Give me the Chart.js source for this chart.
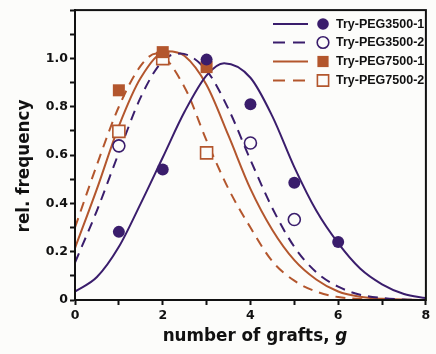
<!DOCTYPE html>
<html>
<head>
<meta charset="utf-8">
<script src="https://cdn.jsdelivr.net/npm/chart.js@4.4.1/dist/chart.umd.min.js"></script>
<style>
  html, body { margin: 0; padding: 0; background: #fcfcfa; }
  #wrap { width: 436px; height: 354px; }
</style>
</head>
<body>
<div id="wrap"><canvas id="c" width="436" height="354"></canvas></div>
<script>
// ---- data ----
const seriesNames = ['Try-PEG3500-1', 'Try-PEG3500-2', 'Try-PEG7500-1', 'Try-PEG7500-2'];

// measured points (g, rel. frequency)
const g35_1 = [1, 2, 3, 4, 5, 6];
const f35_1 = [0.282, 0.54, 0.995, 0.81, 0.485, 0.24];
const g35_2 = [1, 4, 5];
const f35_2 = [0.638, 0.65, 0.333];
const g75_1 = [1, 2, 3];
const f75_1 = [0.868, 1.026, 0.964];
const g75_2 = [1, 2, 3];
const f75_2 = [0.698, 0.999, 0.609];

// fitted curves
const fitX35_1 = [0, 0.5, 1, 1.5, 2, 2.5, 3, 3.4, 4, 4.5, 5, 5.5, 6, 6.5, 7, 7.5, 8];
const fitY35_1 = [0.035, 0.095, 0.22, 0.40, 0.59, 0.78, 0.93, 0.98, 0.92, 0.76, 0.55, 0.37, 0.235, 0.13, 0.065, 0.025, 0.008];
const fitX35_2 = [0, 0.5, 1, 1.5, 2, 2.4, 3, 3.5, 4, 4.5, 5, 5.5, 6, 6.5, 7, 7.5, 8];
const fitY35_2 = [0.155, 0.37, 0.61, 0.84, 0.99, 1.02, 0.95, 0.79, 0.58, 0.38, 0.22, 0.115, 0.055, 0.022, 0.008, 0.002, 0];
const fitX75_1 = [0, 0.5, 1, 1.5, 2.1, 2.5, 3, 3.5, 4, 4.5, 5, 5.5, 6, 6.5, 7, 8];
const fitY75_1 = [0.215, 0.46, 0.72, 0.92, 1.03, 1.01, 0.89, 0.68, 0.46, 0.29, 0.165, 0.085, 0.035, 0.013, 0.005, 0];
const fitX75_2 = [0, 0.5, 1, 1.5, 1.85, 2.5, 3, 3.5, 4, 4.5, 5, 5.5, 6, 6.5, 7, 8];
const fitY75_2 = [0.30, 0.56, 0.80, 0.97, 1.02, 0.88, 0.66, 0.46, 0.30, 0.16, 0.08, 0.035, 0.012, 0.004, 0.001, 0];

const xTickLabels = ['0', '2', '4', '6', '8'];
const yTickLabels = ['0', '0.2', '0.4', '0.6', '0.8', '1.0'];

// ---- styling ----
const PURPLE = '#3a1d6c';
const BROWN = '#b3562d';
const BG = '#fcfcfa';
const FONT = '"DejaVu Sans", sans-serif';
const LFONT = '"Liberation Sans", Arial, sans-serif';

const pts = (xs, ys) => xs.map((x, i) => ({ x, y: ys[i] }));

function curve(xs, ys, color, dash) {
  return {
    type: 'line', data: pts(xs, ys), borderColor: color, borderWidth: 2,
    borderDash: dash, pointRadius: 0, fill: false,
    cubicInterpolationMode: 'monotone', order: 2
  };
}
function marks(xs, ys, color, style, filled) {
  return {
    type: 'scatter', data: pts(xs, ys), pointStyle: style,
    pointRadius: style === 'rect' ? 8.5 : 6,
    pointBackgroundColor: filled ? color : BG,
    pointBorderColor: color, pointBorderWidth: filled ? 0 : 1.6, order: 0
  };
}

const legendItems = [
  { color: PURPLE, dash: [], style: 'circle', filled: true },
  { color: PURPLE, dash: [12, 8], style: 'circle', filled: false },
  { color: BROWN, dash: [], style: 'rect', filled: true },
  { color: BROWN, dash: [12, 8], style: 'rect', filled: false }
];

const decor = {
  id: 'decor',
  afterDraw(chart) {
    const { ctx, chartArea: a } = chart;
    ctx.save();
    // frame
    ctx.strokeStyle = '#111';
    ctx.lineWidth = 2;
    ctx.strokeRect(a.left, a.top, a.right - a.left, a.bottom - a.top);
    // legend
    const rowY = [24, 42.5, 61.5, 80.5];
    legendItems.forEach((it, i) => {
      const y = rowY[i];
      ctx.strokeStyle = it.color;
      ctx.lineWidth = 2;
      ctx.setLineDash(it.dash);
      ctx.beginPath(); ctx.moveTo(273, y); ctx.lineTo(308, y); ctx.stroke();
      ctx.setLineDash([]);
      ctx.fillStyle = it.filled ? it.color : BG;
      ctx.strokeStyle = it.color;
      ctx.lineWidth = 1.6;
      ctx.beginPath();
      if (it.style === 'rect') { ctx.rect(323 - 5.6, y - 5.6, 11.2, 11.2); }
      else { ctx.arc(323, y, 5.8, 0, Math.PI * 2); }
      ctx.fill();
      if (!it.filled) ctx.stroke();
      ctx.fillStyle = '#111';
      ctx.font = 'bold 12.5px ' + LFONT;
      ctx.textBaseline = 'middle';
      ctx.textAlign = 'left';
      ctx.fillText(seriesNames[i], 336, y + 0.5, 92);
    });
    // x axis title
    ctx.fillStyle = '#111';
    ctx.textBaseline = 'alphabetic';
    const t1 = 'number of grafts, ', t2 = 'g';
    const fs = 16.8;
    ctx.font = 'bold ' + fs + 'px ' + FONT;
    const w1 = ctx.measureText(t1).width;
    ctx.font = 'italic bold ' + fs + 'px ' + FONT;
    const w2 = ctx.measureText(t2).width;
    const x0 = 255 - (w1 + w2) / 2;
    ctx.font = 'bold ' + fs + 'px ' + FONT;
    ctx.textAlign = 'left';
    ctx.fillText(t1, x0, 341);
    ctx.font = 'italic bold ' + fs + 'px ' + FONT;
    ctx.fillText(t2, x0 + w1, 341);
    // y axis title
    ctx.translate(29, 166);
    ctx.rotate(-Math.PI / 2);
    ctx.textAlign = 'center';
    ctx.font = 'bold ' + fs + 'px ' + FONT;
    ctx.fillText('rel. frequency', 0, 0, 142);
    ctx.restore();
  }
};

new Chart(document.getElementById('c'), {
  data: {
    datasets: [
      marks(g35_1, f35_1, PURPLE, 'circle', true),
      marks(g35_2, f35_2, PURPLE, 'circle', false),
      marks(g75_1, f75_1, BROWN, 'rect', true),
      marks(g75_2, f75_2, BROWN, 'rect', false),
      curve(fitX35_1, fitY35_1, PURPLE, []),
      curve(fitX35_2, fitY35_2, PURPLE, [10, 7]),
      curve(fitX75_1, fitY75_1, BROWN, []),
      curve(fitX75_2, fitY75_2, BROWN, [10, 7])
    ]
  },
  options: {
    responsive: false,
    devicePixelRatio: 1,
    animation: false,
    layout: { padding: { top: 10, right: 2, left: 0, bottom: 0 } },
    plugins: { legend: { display: false }, tooltip: { enabled: false } },
    scales: {
      x: {
        type: 'linear', min: 0, max: 8,
        ticks: {
          stepSize: 1, padding: 3, color: '#111', maxRotation: 0, autoSkip: false,
          font: { family: FONT, weight: 'bold', size: 12.5 },
          callback: v => (v % 2 === 0 ? xTickLabels[v / 2] : '')
        },
        grid: { drawOnChartArea: false, drawTicks: true, tickLength: 5, tickColor: '#111', tickWidth: 2 },
        border: { display: true, color: '#111', width: 2 },
        afterFit(s) { s.height = 54; s.paddingLeft = 0; s.paddingRight = 0; }
      },
      y: {
        type: 'linear', min: 0, max: 1.2,
        ticks: {
          stepSize: 0.1, padding: 2, color: '#111', autoSkip: false,
          font: { family: FONT, weight: 'bold', size: 12.5 },
          callback: v => {
            const k = Math.round(v * 10);
            if (k % 2 !== 0 || k > 10) return '';
            return yTickLabels[k / 2];
          }
        },
        grid: { drawOnChartArea: false, drawTicks: true, tickLength: 5, tickColor: '#111', tickWidth: 2 },
        border: { display: true, color: '#111', width: 2 },
        afterFit(s) { s.width = 75; s.paddingTop = 0; s.paddingBottom = 0; }
      }
    }
  },
  plugins: [decor]
});
</script>
</body>
</html>
